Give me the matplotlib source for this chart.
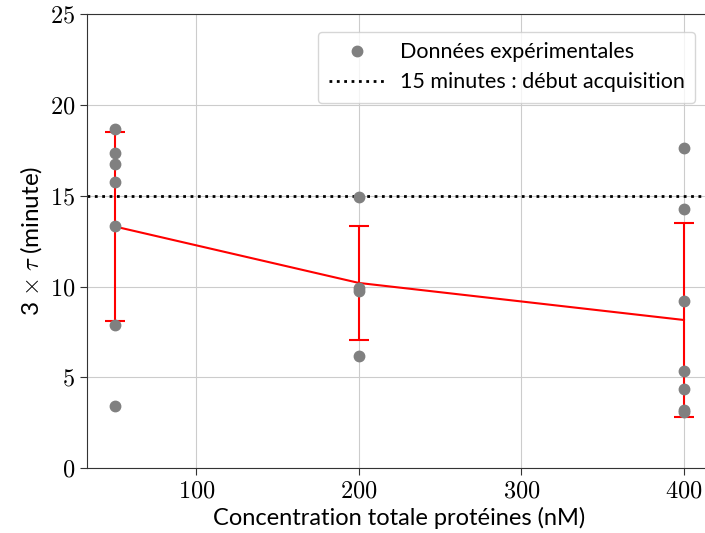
import numpy as np
import matplotlib
matplotlib.use('Agg')
import matplotlib.pyplot as plt
from matplotlib.ticker import FuncFormatter

plt.rcParams['font.family'] = ['Lato', 'DejaVu Sans']
plt.rcParams['mathtext.fontset'] = 'cm'

# Measured values (minutes) per total protein concentration (nM)
concentrations = [50, 200, 400]
values_50 = [18.67, 17.35, 16.74, 15.75, 13.33, 7.87, 3.41]
values_200 = [14.95, 9.90, 9.75, 6.20]
values_400 = [17.62, 14.26, 9.21, 5.36, 4.37, 3.23, 3.08]
threshold = 15

groups = [values_50, values_200, values_400]
means = [np.mean(g) for g in groups]
stds = [np.std(g) for g in groups]

fig = plt.figure(figsize=(7.05, 5.33), dpi=100)
ax = fig.add_axes([0.123, 0.1214, 0.8875, 0.8523])

ax.grid(True, color='#cccccc', linewidth=0.8, zorder=0)
ax.set_axisbelow(True)

ax.errorbar(concentrations, means, yerr=stds, color='red', linewidth=1.5,
            capsize=7, capthick=1.5, zorder=2)

first = True
for c, g in zip(concentrations, groups):
    ax.plot([c] * len(g), g, 'o', color='grey', markersize=7.5, zorder=3,
            label='Données expérimentales' if first else None)
    first = False

ax.axhline(threshold, color='black', linestyle=':', linewidth=2,
           label='15 minutes : début acquisition', zorder=2)

ax.set_ylim(0, 25)
ax.set_xlim(32.5, 417.5)
ax.set_xticks([100, 200, 300, 400])
ax.set_yticks([0, 5, 10, 15, 20, 25])
fmt = FuncFormatter(lambda v, p: r'$%d$' % v)
ax.xaxis.set_major_formatter(fmt)
ax.yaxis.set_major_formatter(fmt)
ax.tick_params(labelsize=17.5, length=5, color='#333333')

for s in ax.spines.values():
    s.set_color('#333333')

ax.set_xlabel('Concentration totale protéines (nM)', fontsize=17)
ax.set_ylabel(r'3 $\times$ $\tau$ (minute)', fontsize=17.5)

ax.legend(loc='upper right', bbox_to_anchor=(0.99, 0.985), fontsize=15.5,
          handlelength=2.6, handletextpad=0.7, borderpad=0.5,
          labelspacing=0.45)

fig.savefig('out.png', dpi=100)
